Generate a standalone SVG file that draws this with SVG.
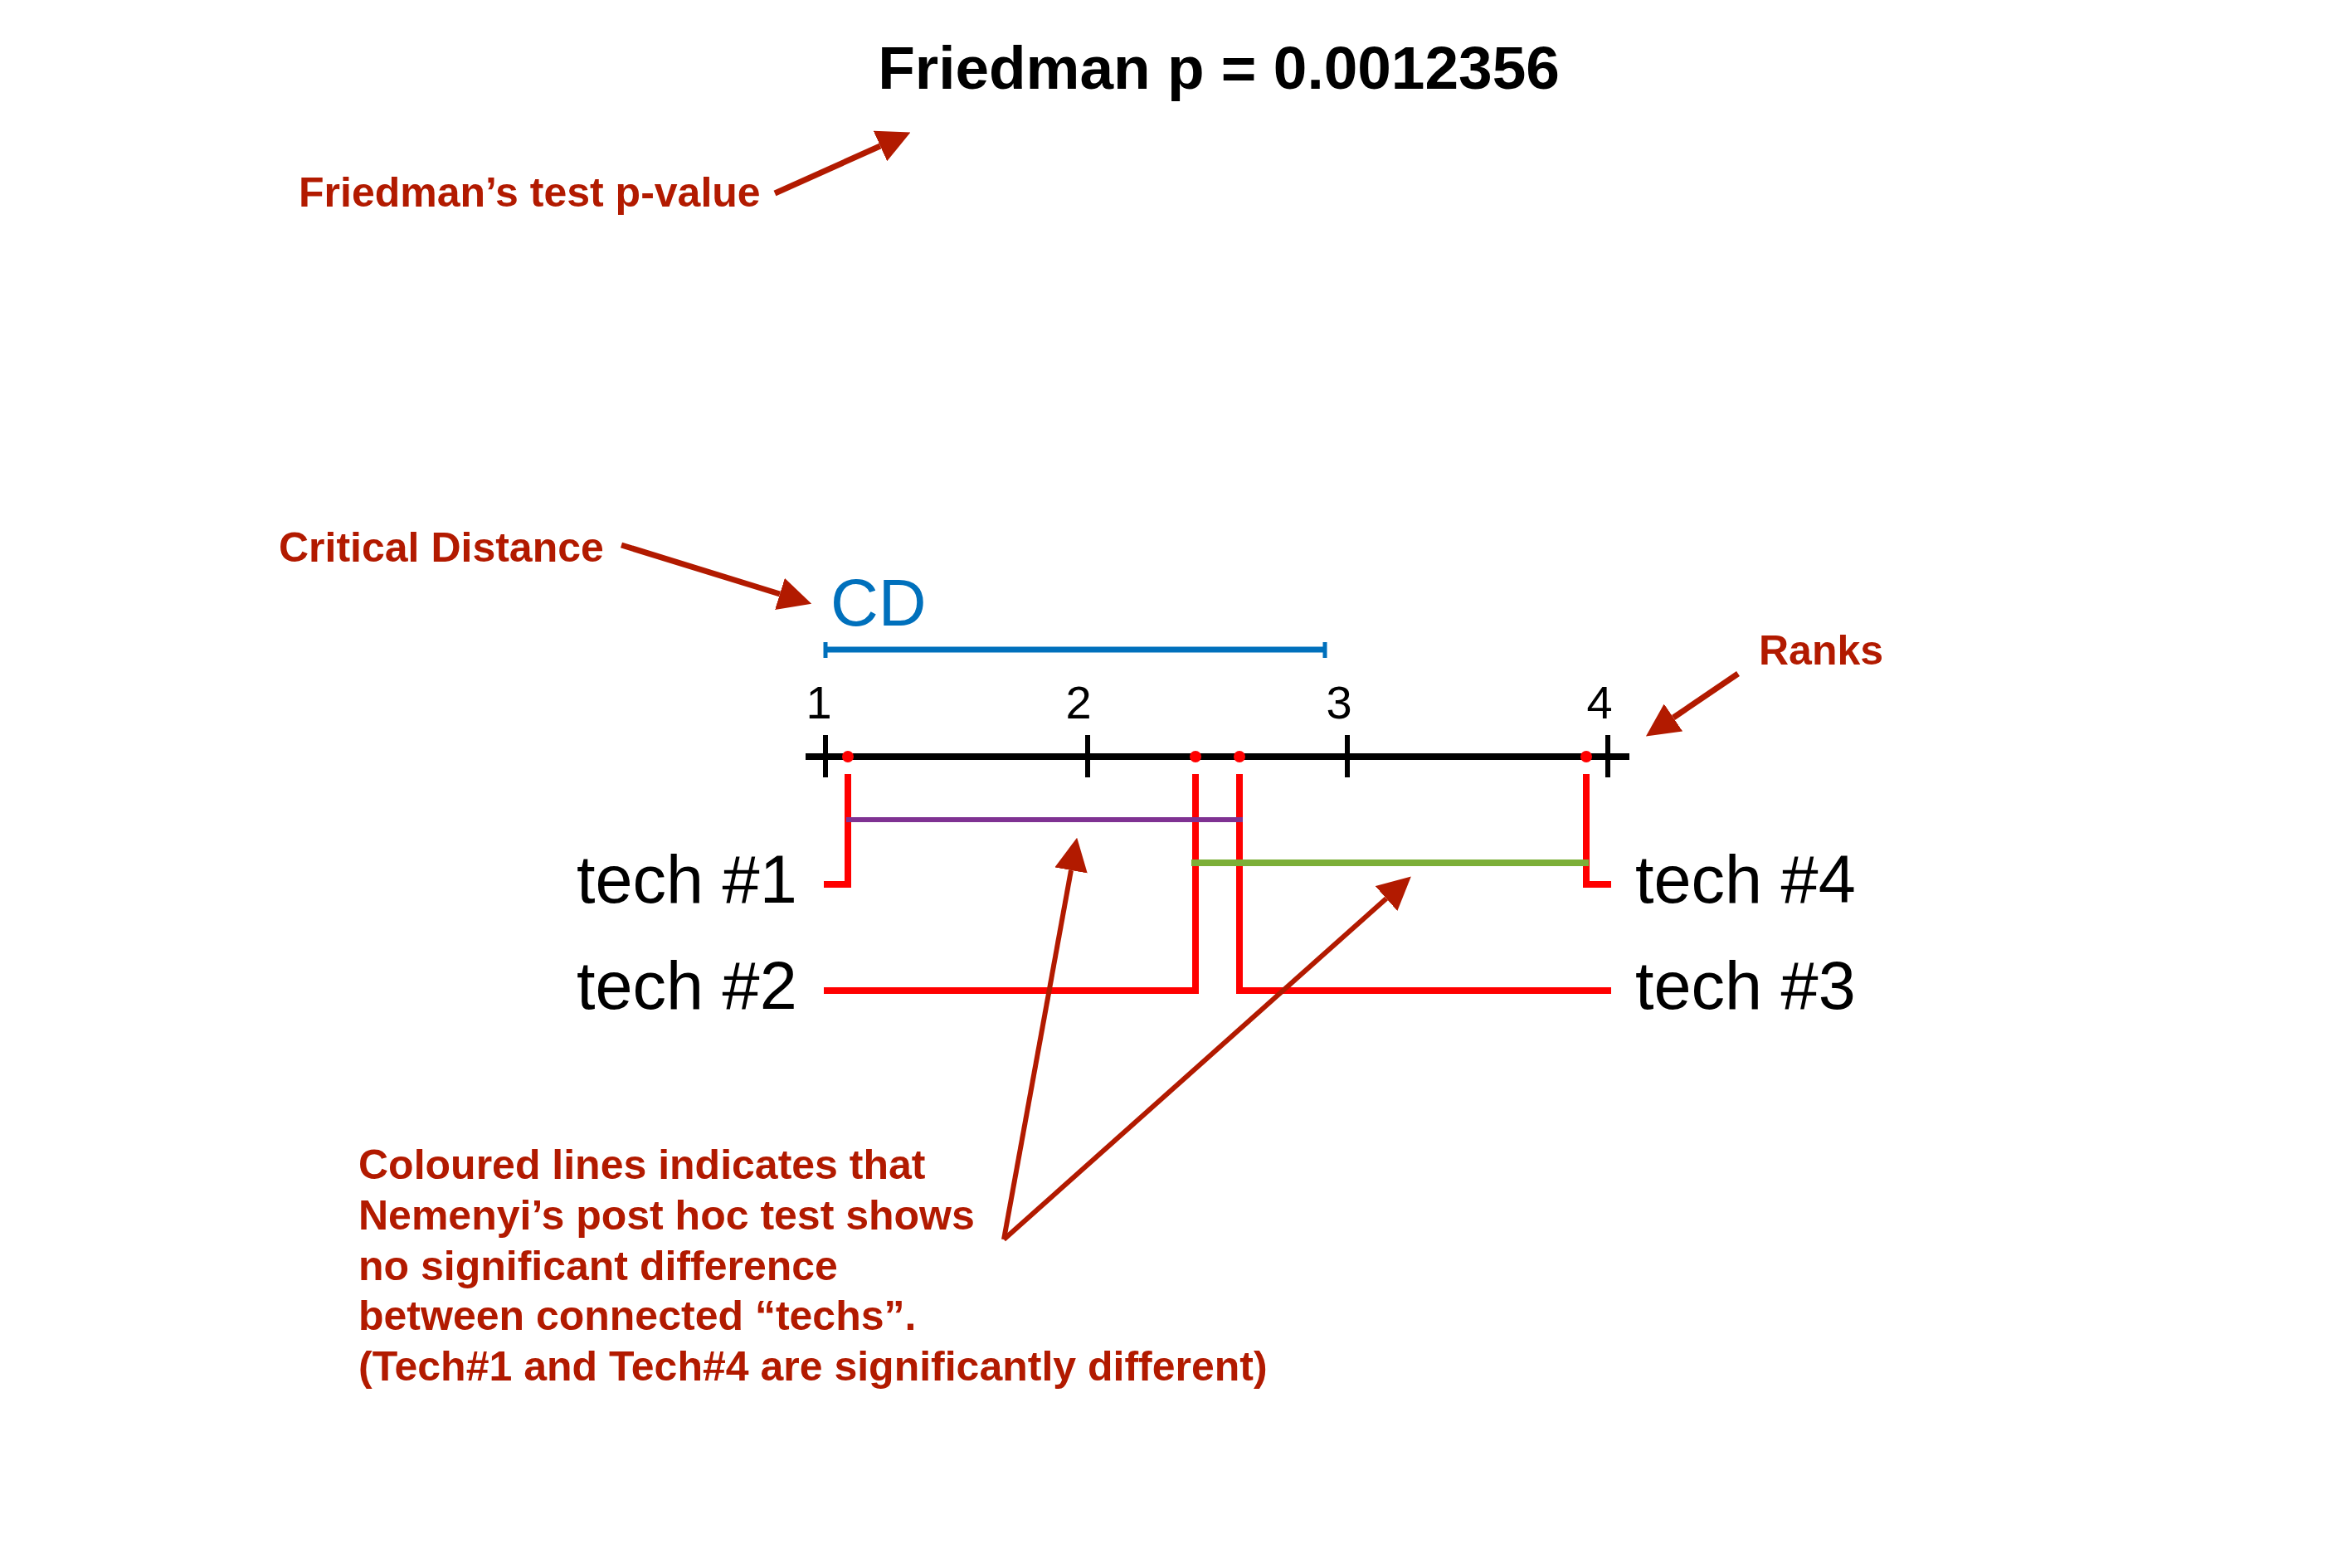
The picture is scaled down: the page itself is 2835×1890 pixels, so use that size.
<svg xmlns="http://www.w3.org/2000/svg" width="2835" height="1890" viewBox="0 0 2835 1890">
<style>
.ann{font-family:"Liberation Sans",Arial,sans-serif;font-weight:bold;font-size:50px;fill:#B21A00}
.title{font-family:"Liberation Sans",Arial,sans-serif;font-weight:bold;font-size:73px;fill:#000}
.tech{font-family:"Liberation Sans",Arial,sans-serif;font-size:81px;fill:#000}
.num{font-family:"Liberation Sans",Arial,sans-serif;font-size:56px;fill:#000;text-anchor:middle}
.cd{font-family:"Liberation Sans",Arial,sans-serif;font-size:80px;fill:#0070BC}
.red{stroke:#FF0000;stroke-width:8;fill:none}
.arr{stroke:#B21A00;stroke-width:7;fill:none;marker-end:url(#ah)}
.arr2{stroke:#B21A00;stroke-width:6;fill:none;marker-end:url(#ah)}
</style>
<defs>
<marker id="ah" markerUnits="userSpaceOnUse" markerWidth="40" markerHeight="40" refX="0" refY="18" orient="auto" viewBox="0 0 36 36">
<path d="M0,0 L36,18 L0,36 z" fill="#B21A00"/>
</marker>
</defs>
<rect width="2835" height="1890" fill="#fff"/>
<g id="title"><text class="title" x="1469" y="107" text-anchor="middle">Friedman p = 0.0012356</text></g>
<g id="label-pvalue"><text class="ann" x="360" y="249">Friedman’s test p-value</text></g>
<g id="label-cd"><text class="ann" x="336" y="677">Critical Distance</text></g>
<g id="label-ranks"><text class="ann" x="2120" y="801">Ranks</text></g>
<g id="label-note">
<text class="ann" x="432" y="1421" font-size="49">Coloured lines indicates that</text>
<text class="ann" x="432" y="1482" font-size="49">Nemenyi’s post hoc test shows</text>
<text class="ann" x="432" y="1543" font-size="49">no significant difference</text>
<text class="ann" x="432" y="1603" font-size="49">between connected “techs”.</text>
<text class="ann" x="432" y="1664" font-size="49">(Tech#1 and Tech#4 are significantly different)</text>
</g>
<g id="cd-bar">
<text class="cd" x="1001" y="754">CD</text>
<line x1="995" y1="783" x2="1597" y2="783" stroke="#0070BC" stroke-width="7"/>
<line x1="995" y1="774" x2="995" y2="793" stroke="#0070BC" stroke-width="5"/>
<line x1="1597" y1="774" x2="1597" y2="793" stroke="#0070BC" stroke-width="5"/>
</g>
<g id="axis">
<line x1="971" y1="912" x2="1964" y2="912" stroke="#000" stroke-width="8"/>
<g stroke="#000" stroke-width="6">
<line x1="995" y1="886" x2="995" y2="937"/>
<line x1="1311" y1="886" x2="1311" y2="937"/>
<line x1="1624" y1="886" x2="1624" y2="937"/>
<line x1="1938" y1="886" x2="1938" y2="937"/>
</g>
<text class="num" x="987" y="866">1</text>
<text class="num" x="1300" y="866">2</text>
<text class="num" x="1614" y="866">3</text>
<text class="num" x="1928" y="866">4</text>
</g>
<g id="tech1">
<circle cx="1022" cy="912" r="7" fill="#FF0000"/>
<polyline class="red" points="1022,933 1022,1066 993,1066"/>
<text class="tech" x="695" y="1088">tech #1</text>
</g>
<g id="tech2">
<circle cx="1441" cy="912" r="7" fill="#FF0000"/>
<polyline class="red" points="1441,933 1441,1194 993,1194"/>
<text class="tech" x="695" y="1216">tech #2</text>
</g>
<g id="tech3">
<circle cx="1494" cy="912" r="7" fill="#FF0000"/>
<polyline class="red" points="1494,933 1494,1194 1942,1194"/>
<text class="tech" x="1971" y="1216">tech #3</text>
</g>
<g id="tech4">
<circle cx="1912" cy="912" r="7" fill="#FF0000"/>
<polyline class="red" points="1912,933 1912,1066 1942,1066"/>
<text class="tech" x="1971" y="1088">tech #4</text>
</g>
<g id="groups">
<line x1="1020" y1="988" x2="1498" y2="988" stroke="#7F3292" stroke-width="6"/>
<line x1="1436" y1="1040" x2="1915" y2="1040" stroke="#7CAF38" stroke-width="8"/>
</g>
<g id="connectors">
<line class="arr" x1="934" y1="233" x2="1061" y2="176"/>
<line class="arr" x1="749" y1="657" x2="940" y2="716"/>
<line class="arr" x1="2095" y1="812" x2="2017" y2="865"/>
<line class="arr2" x1="1210" y1="1494" x2="1291" y2="1049"/>
<line class="arr2" x1="1210" y1="1494" x2="1671" y2="1083"/>
</g>
</svg>
